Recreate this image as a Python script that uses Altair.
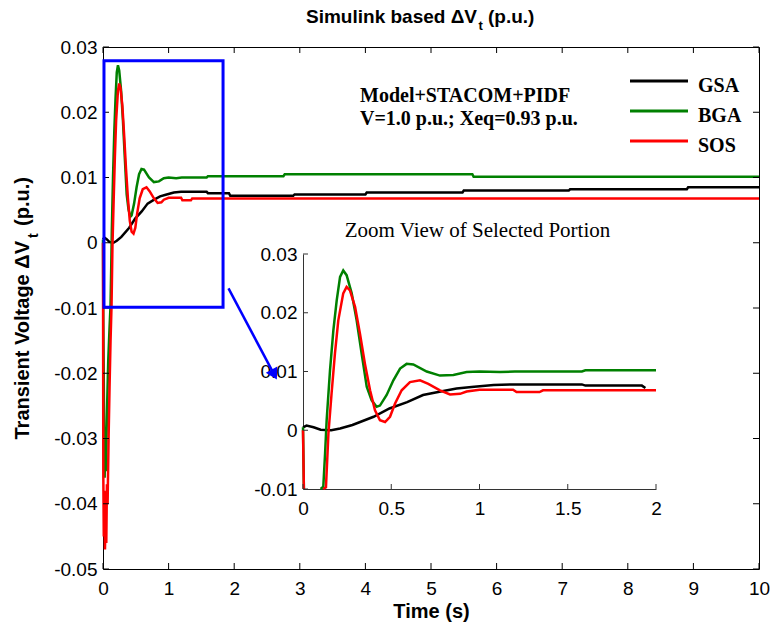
import altair as alt
import pandas as pd

# ------------------------------------------------------------------ data
series_names = ["GSA", "BGA", "SOS"]
series_colors = ["#000000", "#008000", "#FF0000"]

t_gsa = [0.0, 0.02, 0.06, 0.10, 0.16, 0.21, 0.28, 0.40, 0.49, 0.59, 0.68, 0.78, 0.87,
         0.97, 1.08, 1.19, 1.58, 1.60, 1.92, 1.94, 2.90, 2.92, 4.00, 4.02, 5.48, 5.50,
         7.10, 7.12, 8.90, 8.92, 10.0]
v_gsa = [0.0005, 0.0008, 0.0005, 0.0001, 0.0, 0.0003, 0.0009, 0.0023, 0.0037, 0.0048,
         0.0060, 0.0066, 0.0071, 0.0074, 0.0077, 0.0078, 0.0078, 0.0076, 0.0076, 0.0072,
         0.0072, 0.0074, 0.0074, 0.0077, 0.0077, 0.0080, 0.0080, 0.0082, 0.0082, 0.0085,
         0.0085]

t_bga = [0.0, 0.005, 0.015, 0.025, 0.035, 0.045, 0.055, 0.065, 0.08, 0.10, 0.115, 0.125,
         0.134, 0.153, 0.172, 0.191, 0.21, 0.228, 0.247, 0.276, 0.304, 0.332, 0.361,
         0.389, 0.417, 0.436, 0.474, 0.512, 0.55, 0.587, 0.625, 0.701, 0.776, 0.852,
         0.927, 1.0, 1.116, 1.2, 1.58, 1.60, 2.0, 2.75, 2.77, 5.63, 5.65, 10.0]
v_bga = [0.0005, -0.012, -0.025, -0.036, -0.030, -0.035, -0.029, -0.024, -0.018, -0.013,
         -0.0096, -0.004, 0.0017, 0.0102, 0.0170, 0.0221, 0.0261, 0.0272, 0.0264, 0.0233,
         0.0187, 0.0131, 0.0074, 0.0051, 0.0040, 0.0042, 0.0060, 0.0085, 0.0105, 0.0113,
         0.0112, 0.0100, 0.0093, 0.0094, 0.0099, 0.0100, 0.0099, 0.0100, 0.0100, 0.0102,
         0.0102, 0.0102, 0.0105, 0.0105, 0.0101, 0.0101]

t_sos = [0.0, 0.005, 0.012, 0.02, 0.03, 0.04, 0.05, 0.06, 0.07, 0.085, 0.10, 0.115, 0.13,
         0.144, 0.162, 0.181, 0.20, 0.228, 0.247, 0.266, 0.295, 0.323, 0.351, 0.38, 0.408,
         0.436, 0.465, 0.493, 0.521, 0.559, 0.606, 0.663, 0.71, 0.776, 0.833, 0.89, 0.927,
         1.0, 1.19, 1.21, 1.34, 1.36, 2.0, 10.0]
v_sos = [0.0, -0.036, -0.045, -0.038, -0.047, -0.041, -0.046, -0.037, -0.040, -0.030,
         -0.022, -0.015, -0.0097, -0.0006, 0.0063, 0.0131, 0.0187, 0.0233, 0.0244, 0.0238,
         0.0210, 0.0164, 0.0113, 0.0068, 0.0034, 0.0017, 0.0014, 0.0023, 0.0045, 0.0068,
         0.0082, 0.0085, 0.0079, 0.0068, 0.0061, 0.0062, 0.0066, 0.0069, 0.0069, 0.0065,
         0.0065, 0.0068, 0.0068, 0.0068]

x_ticks_main = [0, 1, 2, 3, 4, 5, 6, 7, 8, 9, 10]
y_ticks_main = [-0.05, -0.04, -0.03, -0.02, -0.01, 0.0, 0.01, 0.02, 0.03]
x_ticks_inset = [0, 0.5, 1, 1.5, 2]
y_ticks_inset = [-0.01, 0.0, 0.01, 0.02, 0.03]

box_t = [0.015, 1.83]
box_v = [-0.0099, 0.0279]
arrow_t = [1.913, 2.61]
arrow_v = [-0.0070, -0.0202]

title_parts = ["Simulink based \u0394V", "t", "(p.u.)"]
ytitle_parts = ["Transient Voltage \u0394V", "t", "(p.u.)"]
note_text = "Model+STACOM+PIDF\nV=1.0 p.u.; Xeq=0.93 p.u."
inset_title = "Zoom View of Selected Portion"
x_title = "Time (s)"

# ------------------------------------------------------------------ tables
rows = []
for name, ts, vs in zip(series_names, [t_gsa, t_bga, t_sos], [v_gsa, v_bga, v_sos]):
    for t, v in zip(ts, vs):
        rows.append({"series": name, "t": t, "v": v})
df = pd.DataFrame(rows)

W, H = 656, 522
SANS = "Liberation Sans"
SERIF = "Liberation Serif"
BLUE = "#0000FF"
LBL = 19

color = alt.Color("series:N", scale=alt.Scale(domain=series_names, range=series_colors),
                  legend=None)
minus_fix = "replace(format(datum.value, '.2~f'), '\u2212', '-')"

# ------------------------------------------------------------------ main panel
main_lines = alt.Chart(df).mark_line(strokeWidth=2.5).encode(
    x=alt.X("t:Q", scale=alt.Scale(domain=[0, 10], nice=False, zero=False),
            axis=alt.Axis(orient="bottom", values=x_ticks_main, grid=False, domain=False,
                          ticks=False, tickSize=0, labelPadding=10, labelFont=SANS,
                          labelFontSize=LBL, labelColor="black", labelFlush=False,
                          labelOverlap=False, labelExpr="format(datum.value, '~g')",
                          title=x_title, titleFont=SANS, titleFontSize=20,
                          titleFontWeight="bold", titleColor="black", titlePadding=3)),
    y=alt.Y("v:Q", scale=alt.Scale(domain=[-0.05, 0.03], nice=False, zero=False),
            axis=alt.Axis(orient="left", values=y_ticks_main, grid=False, domain=False,
                          ticks=False, tickSize=0, labelPadding=6, labelFont=SANS,
                          labelFontSize=LBL, labelColor="black", labelOverlap=False,
                          labelExpr=minus_fix, title=None)),
    color=color,
)

xt = pd.DataFrame({"t": x_ticks_main})
yt = pd.DataFrame({"v": y_ticks_main})
top_ticks = alt.Chart(xt).mark_rule(color="black").encode(
    x="t:Q", y=alt.value(0), y2=alt.value(6))
bot_ticks = alt.Chart(xt).mark_rule(color="black").encode(
    x="t:Q", y=alt.value(H - 6), y2=alt.value(H))
left_ticks = alt.Chart(yt).mark_rule(color="black").encode(
    y="v:Q", x=alt.value(0), x2=alt.value(6))
right_ticks = alt.Chart(yt).mark_rule(color="black").encode(
    y="v:Q", x=alt.value(W - 6), x2=alt.value(W))

box_df = pd.DataFrame({"t1": [box_t[0]], "t2": [box_t[1]], "v1": [box_v[0]], "v2": [box_v[1]]})
box = alt.Chart(box_df).mark_rect(filled=False, stroke=BLUE, strokeWidth=3).encode(
    x="t1:Q", x2="t2:Q", y="v1:Q", y2="v2:Q")

arrow_df = pd.DataFrame({"t1": [arrow_t[0]], "t2": [arrow_t[1]],
                         "v1": [arrow_v[0]], "v2": [arrow_v[1]]})
arrow = alt.Chart(arrow_df).mark_rule(color=BLUE, strokeWidth=2.5).encode(
    x="t1:Q", x2="t2:Q", y="v1:Q", y2="v2:Q")
head = alt.Chart(arrow_df).mark_point(shape="triangle-up", angle=152, size=170,
                                      filled=True, color=BLUE, opacity=1).encode(
    x="t2:Q", y="v2:Q")


def text_layer(label, x, y, **kw):
    d = pd.DataFrame({"label": [label]})
    return alt.Chart(d).mark_text(**kw).encode(
        x=alt.value(x), y=alt.value(y), text="label:N")


texts = [
    # chart title
    text_layer(title_parts[0], 374, -24, font=SANS, fontSize=19, fontWeight="bold",
               align="right", baseline="alphabetic", color="black"),
    text_layer(title_parts[1], 375.5, -17, font=SANS, fontSize=13, fontWeight="bold",
               align="left", baseline="alphabetic", color="black"),
    text_layer(title_parts[2], 385, -24, font=SANS, fontSize=19, fontWeight="bold",
               align="left", baseline="alphabetic", color="black"),
    # y title (rotated)
    text_layer(ytitle_parts[0], -80.5, 194, font=SANS, fontSize=20, fontWeight="bold",
               align="right", baseline="middle", angle=270, color="black"),
    text_layer(ytitle_parts[1], -69, 191, font=SANS, fontSize=14, fontWeight="bold",
               align="left", baseline="middle", angle=270, color="black"),
    text_layer(ytitle_parts[2], -80.5, 179, font=SANS, fontSize=20, fontWeight="bold",
               align="left", baseline="middle", angle=270, color="black"),
    # annotation
    text_layer(note_text, 257, 55, font=SERIF, fontSize=20, fontWeight="bold",
               align="left", baseline="alphabetic", lineBreak="\n", lineHeight=23,
               color="black"),
    # inset title
    text_layer(inset_title, 374.5, 190, font=SERIF, fontSize=21, align="center",
               baseline="alphabetic", color="black"),
]

legend_layers = []
for i, (name, col) in enumerate(zip(series_names, series_colors)):
    ly = 34 + 30 * i
    ld = pd.DataFrame({"label": [name]})
    legend_layers.append(alt.Chart(ld).mark_rule(color=col, strokeWidth=3).encode(
        x=alt.value(527), x2=alt.value(585), y=alt.value(ly)))
    legend_layers.append(alt.Chart(ld).mark_text(
        font=SERIF, fontSize=20, fontWeight="bold", align="left", baseline="alphabetic",
        color="black").encode(x=alt.value(595), y=alt.value(ly + 10.5), text="label:N"))

main = alt.layer(main_lines, top_ticks, bot_ticks, left_ticks, right_ticks, box, arrow,
                 head, *texts, *legend_layers)

# ------------------------------------------------------------------ inset panel
IX0, IX1 = 200, 553
IY0, IY1 = 442, 207
LOW = -0.0102

inset_lines = alt.Chart(df).transform_filter("datum.t <= 2.0001").transform_window(
    prev_v="lag(v)", next_v="lead(v)", groupby=["series"],
    sort=[alt.SortField("t", order="ascending")], frame=[None, None]
).transform_calculate(
    vi=(f"datum.v >= {LOW} ? datum.v : "
        f"((isValid(datum.prev_v) && datum.prev_v >= {LOW}) || "
        f"(isValid(datum.next_v) && datum.next_v >= {LOW})) ? {LOW} : null")
).mark_line(strokeWidth=2.5, invalid="break-paths-show-domains").encode(
    x=alt.X("t:Q", scale=alt.Scale(domain=[0, 2], range=[IX0, IX1], nice=False,
                                   zero=False, clamp=True),
            axis=alt.Axis(orient="bottom", offset=IY0 - H, values=x_ticks_inset,
                          grid=False, domain=True, domainColor="#333333", domainWidth=1,
                          ticks=False, tickSize=0, labelPadding=10, labelFont=SANS,
                          labelFontSize=LBL, labelColor="black", labelFlush=False,
                          labelOverlap=False, labelExpr="format(datum.value, '~g')",
                          title=None)),
    y=alt.Y("vi:Q", scale=alt.Scale(domain=[-0.01, 0.03], range=[IY0, IY1], nice=False,
                                    zero=False, clamp=True),
            axis=alt.Axis(orient="left", offset=-IX0, values=y_ticks_inset, grid=False,
                          domain=True, domainColor="#333333", domainWidth=1, ticks=False,
                          tickSize=0, labelPadding=6, labelFont=SANS, labelFontSize=LBL,
                          labelColor="black", labelOverlap=False, labelExpr=minus_fix,
                          title=None)),
    color=color,
)
ixt = pd.DataFrame({"t": x_ticks_inset})
iyt = pd.DataFrame({"v": y_ticks_inset})
inset_xticks = alt.Chart(ixt).mark_rule(color="#333333").encode(
    x="t:Q", y=alt.value(IY0 - 5), y2=alt.value(IY0))
inset_yticks = alt.Chart(iyt).mark_rule(color="#333333").encode(
    y="v:Q", x=alt.value(IX0), x2=alt.value(IX0 + 5))

inset = alt.layer(inset_lines, inset_xticks, inset_yticks)

chart = alt.layer(main, inset).resolve_scale(
    x="independent", y="independent"
).properties(
    width=W, height=H,
    padding={"left": 103, "top": 47, "right": 13, "bottom": 58},
    autosize=alt.AutoSizeParams(type="none"),
    background="white",
).configure_view(stroke="black", strokeWidth=1)

chart.save("out.html", embed_options={"renderer": "svg", "actions": False})
